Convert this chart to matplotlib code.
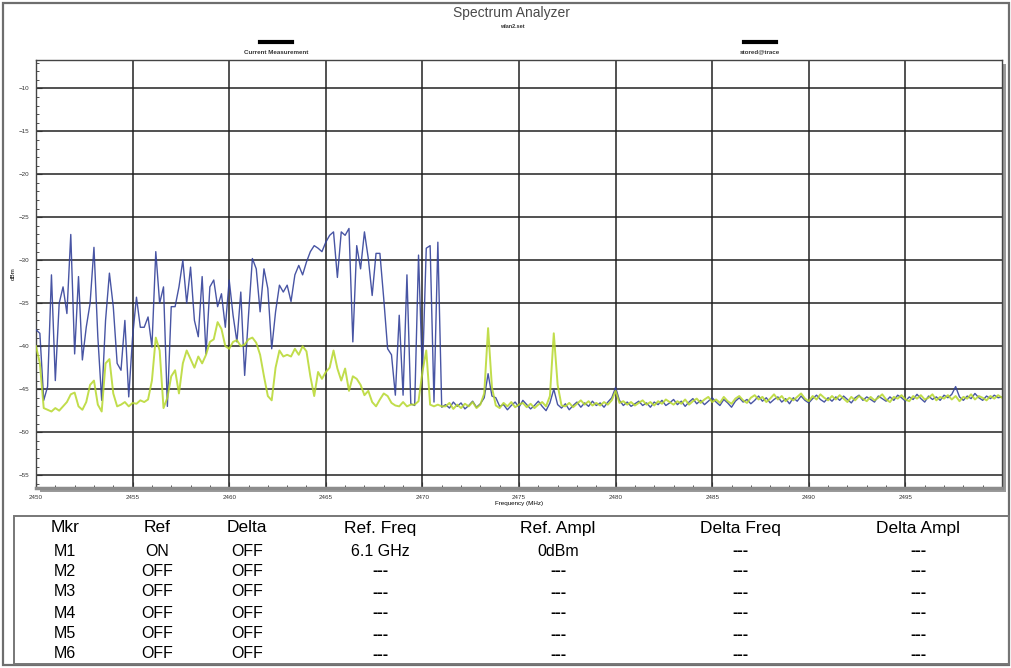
import numpy as np
import matplotlib
matplotlib.use("Agg")
import matplotlib.pyplot as plt
from matplotlib.patches import Rectangle
from matplotlib.ticker import MultipleLocator

plt.rcParams['font.family'] = ['Liberation Sans', 'DejaVu Sans']

# Sweep: 2450-2500 MHz, one sample every 0.2 MHz
freq_mhz = np.linspace(2450, 2500, 251)

# Trace 1 (blue) in dBm
trace_blue = [
    -38.1, -38.5, -46.3, -44.7, -31.7, -44.0, -35.0, -33.1, -36.2, -27.0,
    -40.9, -31.9, -41.6, -37.8, -35.0, -28.5, -38.9, -46.3, -37.0, -31.5,
    -35.4, -42.0, -42.8, -37.0, -45.9, -38.9, -34.3, -37.8, -37.8, -36.6,
    -40.1, -29.0, -35.0, -33.1, -47.0, -35.4, -35.4, -33.1, -30.0, -35.0,
    -30.8, -37.0, -38.9, -31.9, -40.9, -33.1, -32.3, -35.4, -33.9, -37.8,
    -32.3, -36.4, -39.5, -33.7, -43.4, -36.4, -29.8, -31.0, -36.0, -31.0,
    -33.3, -40.3, -36.0, -32.9, -33.7, -32.9, -34.8, -31.7, -30.6, -31.7,
    -30.2, -29.0, -28.3, -28.6, -29.0, -27.9, -27.1, -26.7, -32.0, -26.7,
    -27.1, -26.3, -39.5, -28.3, -31.0, -26.7, -29.8, -34.1, -29.2, -29.2,
    -34.5, -40.3, -41.0, -45.7, -36.4, -45.7, -31.7, -46.7, -46.9, -29.4,
    -43.4, -28.6, -28.3, -46.5, -27.9, -47.1,
    -46.8, -47.2, -46.5, -47.0, -46.6, -47.3, -46.9, -46.4, -47.1, -46.7,
    -46.0, -43.2, -45.8, -46.0, -47.0, -46.8, -47.4, -46.9, -46.5, -47.1,
    -46.3, -46.8, -47.3, -46.9, -46.4, -47.0, -47.5, -46.6, -45.0, -46.8,
    -47.2, -46.7, -47.4, -46.9, -46.5, -47.1, -46.6, -47.0, -46.4, -46.9,
    -46.6, -47.1, -46.5, -46.0, -44.8, -46.3, -46.9, -46.5, -47.0, -46.7,
    -46.4, -46.9, -46.6, -47.1, -46.5, -46.8, -46.3, -46.9, -46.6, -46.2,
    -46.8, -46.4, -47.0, -46.5, -46.1, -46.7, -46.3, -46.8, -46.4, -46.0,
    -46.5, -46.9, -46.2, -46.6, -47.1, -46.4, -46.0, -46.5, -46.2, -46.7,
    -46.3, -45.8, -46.4, -46.0, -46.6, -46.2, -45.9, -46.5, -46.1, -46.7,
    -46.0, -46.4, -45.8, -46.3, -46.6, -46.1, -45.7, -46.2, -46.5, -46.0,
    -46.4, -45.9, -46.3, -45.8, -46.2, -46.6, -46.0, -45.7, -46.3, -45.9,
    -46.2, -46.5, -45.8, -46.1, -46.4, -45.9, -46.3, -45.7, -46.0, -46.4,
    -45.9, -46.2, -45.6, -46.1, -46.5, -45.8, -46.2, -45.9, -46.3, -45.7,
    -46.0, -45.6, -44.7, -45.9, -46.3, -45.8, -46.1, -45.5, -46.0, -46.3,
    -45.8, -46.1, -45.7, -46.0, -45.9,
]

# Trace 2 (green) in dBm
trace_green = [
    -40.0, -42.0, -47.2, -47.4, -47.6, -47.2, -47.5, -47.0, -46.5, -45.6,
    -45.4, -47.0, -47.4, -46.5, -44.5, -44.0, -46.8, -47.6, -42.0, -41.5,
    -45.5, -47.0, -46.8, -46.5, -47.0, -46.6, -46.7, -46.3, -46.5, -46.2,
    -44.0, -39.0, -40.5, -47.2, -46.0, -43.5, -42.8, -45.5, -42.0, -40.5,
    -41.5, -42.5, -41.2, -42.0, -41.0, -39.5, -39.2, -37.2, -38.0, -40.0,
    -40.3, -39.5, -39.3, -40.0, -39.8, -39.2, -39.0, -39.6, -41.0, -43.5,
    -45.8, -46.3, -42.5, -40.5, -41.2, -41.0, -41.2, -40.3, -41.0, -40.0,
    -40.6, -43.5, -45.8, -43.0, -43.8, -43.0, -42.5, -40.5, -42.6, -44.0,
    -42.6, -45.2, -43.5, -43.8, -44.5, -45.7, -45.2, -46.5, -47.0, -46.2,
    -45.5, -45.8, -46.6, -46.9, -47.0, -46.5, -47.0, -46.8, -46.8, -46.4,
    -43.0, -40.5, -46.8, -47.0, -46.8, -47.0,
    -47.0, -46.6, -47.3, -46.8, -47.2, -46.7, -47.0, -46.5, -47.2, -46.8,
    -45.5, -37.9, -44.8, -46.9, -47.2, -46.6, -47.0, -46.5, -47.1, -46.8,
    -46.6, -47.1, -46.7, -47.2, -46.8, -46.5, -47.0, -45.8, -38.5, -44.5,
    -46.9, -47.0, -46.6, -47.1, -46.7, -46.3, -46.8, -46.4, -46.9, -46.6,
    -46.9, -46.5, -46.8, -46.3, -45.2, -46.6, -46.4, -46.8, -46.5, -46.9,
    -46.6, -46.3, -46.8, -46.5, -46.9, -46.4, -46.7, -46.2, -46.5, -46.8,
    -46.4, -46.7, -46.2, -46.8, -46.4, -46.1, -46.6, -46.2, -45.9, -46.5,
    -46.2, -46.6, -45.9, -46.4, -46.7, -46.1, -45.8, -46.3, -46.6, -46.0,
    -45.7, -46.2, -45.9, -46.5, -46.1, -45.6, -46.2, -45.8, -46.4, -46.0,
    -46.3, -45.9, -45.5, -46.1, -46.4, -45.8, -46.2, -45.6, -46.0, -46.3,
    -45.8, -46.2, -45.7, -46.1, -46.5, -45.9, -46.3, -45.8, -46.1, -46.4,
    -45.9, -46.3, -46.0, -45.6, -46.2, -46.5, -45.9, -46.1, -45.7, -46.2,
    -46.4, -45.8, -46.1, -45.7, -46.2, -46.0, -45.6, -46.3, -45.9, -46.1,
    -45.7, -46.2, -45.8, -46.4, -45.9, -46.1, -45.6, -46.2, -45.8, -46.0,
    -46.3, -45.8, -46.1, -45.7, -46.0,
]

x_ticks = [2450, 2455, 2460, 2465, 2470, 2475, 2480, 2485, 2490, 2495]
y_ticks = [-10, -15, -20, -25, -30, -35, -40, -45, -50, -55]

# Marker table
table_cols = ['Mkr', 'Ref', 'Delta', 'Ref. Freq', 'Ref. Ampl', 'Delta Freq', 'Delta Ampl']
table_rows = [
    ['M1', 'ON', 'OFF', '6.1 GHz', '0dBm', '---', '---'],
    ['M2', 'OFF', 'OFF', '---', '---', '---', '---'],
    ['M3', 'OFF', 'OFF', '---', '---', '---', '---'],
    ['M4', 'OFF', 'OFF', '---', '---', '---', '---'],
    ['M5', 'OFF', 'OFF', '---', '---', '---', '---'],
    ['M6', 'OFF', 'OFF', '---', '---', '---', '---'],
]

W, H = 1012, 668
fig = plt.figure(figsize=(W / 100, H / 100), dpi=100)


def fx(px):
    return px / W


def fy(py):
    return 1 - py / H


# outer frame
fig.patches.append(Rectangle((fx(3), fy(665)), fx(1006), 662 / H, transform=fig.transFigure,
                             fill=False, ec='#6e6e6e', lw=1.6))

# plot area with drop shadow behind it
left, top, right, bottom = 36, 60, 1002, 488
fig.patches.append(Rectangle((fx(left + 4), fy(bottom + 4)), fx(right - left), (bottom - top) / H,
                             transform=fig.transFigure, fc='#9a9a9a', ec='none', zorder=-5))
ax = fig.add_axes([fx(left), fy(bottom), fx(right - left), (bottom - top) / H])
ax.set_zorder(2)
ax.set_facecolor('white')

ax.plot(freq_mhz, trace_blue, color='#34429a', lw=1.0, alpha=0.9, zorder=3)
ax.plot(freq_mhz, trace_green, color='#b6d72c', lw=1.4, alpha=0.85, zorder=4)

ax.set_xlim(2450, 2500)
ax.set_ylim(-56.5, -6.7)
ax.set_xticks(x_ticks)
ax.set_yticks(y_ticks)
ax.xaxis.set_minor_locator(MultipleLocator(1))
ax.yaxis.set_minor_locator(MultipleLocator(1))
ax.tick_params(which='both', direction='in', labelsize=4.5, colors='#333333')
ax.tick_params(which='major', length=4, width=0.8, pad=5)
ax.tick_params(which='minor', length=2.5, width=0.6)
ax.grid(True, which='major', color='#222222', lw=1.1)
for side in ['left', 'top', 'right']:
    ax.spines[side].set_color('#444444')
    ax.spines[side].set_linewidth(1.0)
ax.spines['bottom'].set_color('#8c8c8c')
ax.spines['bottom'].set_linewidth(2.5)

ax.set_xlabel('Frequency (MHz)', fontsize=4.5, labelpad=1)
ax.set_ylabel('dBm', fontsize=4.5, labelpad=2)

# header texts
fig.text(fx(512), fy(13), 'Spectrum Analyzer', ha='center', va='center', fontsize=10, color='#4a4a4a')
fig.text(fx(512), fy(27), 'wlan2.set', ha='center', va='center', fontsize=4, weight='bold', color='#333333')

# trace legend items
for cx, label in [(276, 'Current Measurement'), (760, 'stored@trace')]:
    fig.add_artist(plt.Line2D([fx(cx - 16), fx(cx + 16)], [fy(42), fy(42)], color='black', lw=3,
                              transform=fig.transFigure))
    fig.text(fx(cx), fy(52), label, ha='center', va='center', fontsize=4.5, weight='bold', color='#333333')

# marker table
fig.patches.append(Rectangle((fx(14), fy(664)), fx(995), 148 / H, transform=fig.transFigure,
                             fill=False, ec='#777777', lw=1.4))
col_x = [65, 157, 247, 380, 558, 740, 918]
row_y = [551, 571, 592, 613, 634, 654]
for cx, name in zip(col_x, table_cols):
    fig.text(fx(cx), fy(528), name, ha='center', va='center', fontsize=12.5, color='black')
for ry, row in zip(row_y, table_rows):
    for cx, cell in zip(col_x, row):
        fig.text(fx(cx), fy(ry), cell, ha='center', va='center', fontsize=11.5, color='black',
                 weight='bold' if cell == '---' else 'normal')

fig.savefig('out.png', dpi=100)
